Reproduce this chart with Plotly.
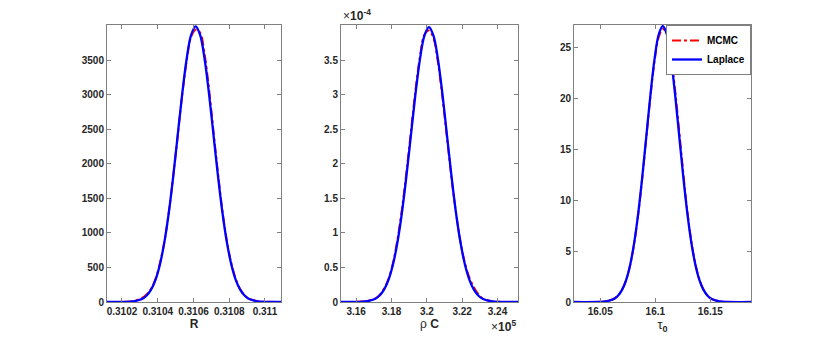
import plotly.graph_objects as go

# R panel
R_x = [0.31011, 0.310212, 0.310262, 0.310312, 0.310337, 0.310362, 0.310387, 0.310412,
       0.310437, 0.310462, 0.310487, 0.310512, 0.310537, 0.310562, 0.310587, 0.310612,
       0.310637, 0.310662, 0.310687, 0.310712, 0.310737, 0.310762, 0.310787, 0.310812,
       0.310837, 0.310862, 0.310887, 0.310912, 0.310962, 0.311012, 0.31111]
R_laplace = [0, 1.3, 8.7, 44, 91, 175, 317, 540, 863, 1295, 1827, 2420, 3012, 3521, 3867, 3990,
             3867, 3521, 3012, 2420, 1827, 1295, 863, 540, 317, 175, 91, 44, 8.7, 1.3, 0]
R_mcmc = [0, 2, 12, 60, 110, 190, 330, 560, 870, 1300, 1830, 2410, 3000, 3490, 3840, 3940,
          3900, 3590, 3080, 2470, 1870, 1320, 880, 560, 330, 185, 95, 48, 10, 2, 0]

# rho C panel (x in 1e5, y in 1e-4)
rC_x = [3.1502, 3.1604, 3.1655, 3.1706, 3.17315, 3.1757, 3.17825, 3.1808, 3.18335, 3.1859,
        3.18845, 3.191, 3.19355, 3.1961, 3.19865, 3.2012, 3.20375, 3.2063, 3.20885, 3.2114,
        3.21395, 3.2165, 3.21905, 3.2216, 3.22415, 3.2267, 3.22925, 3.2318, 3.2369, 3.242, 3.2522]
rC_laplace = [0, 0.0013, 0.0087, 0.0442, 0.0908, 0.1749, 0.3167, 0.5387, 0.8608, 1.2921, 1.8222,
              2.414, 3.0043, 3.5124, 3.8575, 3.98, 3.8575, 3.5124, 3.0043, 2.414, 1.8222, 1.2921,
              0.8608, 0.5387, 0.3167, 0.1749, 0.0908, 0.0442, 0.0087, 0.0013, 0]
rC_mcmc = [0, 0.002, 0.012, 0.05, 0.10, 0.19, 0.33, 0.56, 0.90, 1.34, 1.88, 2.47, 3.06, 3.55,
           3.87, 3.93, 3.82, 3.47, 2.96, 2.38, 1.80, 1.29, 0.87, 0.56, 0.35, 0.21, 0.11, 0.05,
           0.01, 0.002, 0]

# tau0 panel
t_x = [16.0254, 16.0476, 16.055, 16.0624, 16.0661, 16.0698, 16.0735, 16.0772, 16.0809, 16.0846,
       16.0883, 16.092, 16.0957, 16.0994, 16.1031, 16.1068, 16.1105, 16.1142, 16.1179, 16.1216,
       16.1253, 16.129, 16.1327, 16.1364, 16.1401, 16.1438, 16.1475, 16.1512, 16.1586, 16.166, 16.1882]
t_laplace = [0, 0.0091, 0.0593, 0.301, 0.618, 1.191, 2.156, 3.668, 5.861, 8.798, 12.407, 16.437,
             20.456, 23.916, 26.266, 27.1, 26.266, 23.916, 20.456, 16.437, 12.407, 8.798, 5.861,
             3.668, 2.156, 1.191, 0.618, 0.301, 0.0593, 0.0091, 0]
t_mcmc = [0, 0.01, 0.07, 0.32, 0.63, 1.2, 2.15, 3.62, 5.8, 8.7, 12.3, 16.3, 20.3, 23.7, 26.0, 26.8,
          26.4, 24.2, 20.9, 16.9, 12.8, 9.0, 6.0, 3.75, 2.2, 1.2, 0.62, 0.3, 0.06, 0.01, 0]

FONT = "Liberation Sans, Arial, sans-serif"
fig = go.Figure()

panels = [(R_x, R_mcmc, R_laplace, "", ""), (rC_x, rC_mcmc, rC_laplace, "2", "2"),
          (t_x, t_mcmc, t_laplace, "3", "3")]
for i, (x, m, l, xa, ya) in enumerate(panels):
    fig.add_trace(go.Scatter(x=x, y=m, mode="lines", name="MCMC", showlegend=(i == 2),
                             line=dict(color="red", width=2, dash="dashdot", shape="spline"),
                             xaxis="x" + xa, yaxis="y" + ya))
    fig.add_trace(go.Scatter(x=x, y=l, mode="lines", name="Laplace", showlegend=(i == 2),
                             line=dict(color="blue", width=2.3, shape="spline"),
                             xaxis="x" + xa, yaxis="y" + ya))

axis_style = dict(showline=True, mirror="ticks", linecolor="#808080", linewidth=1,
                  ticks="inside", ticklen=4, tickcolor="#808080", showgrid=False,
                  zeroline=False, tickangle=0,
                  tickfont=dict(family=FONT, size=10, color="#262626", weight="bold"))

fig.update_layout(
    width=830, height=344,
    margin=dict(l=0, r=0, t=25, b=42),
    plot_bgcolor="white", paper_bgcolor="white",
    font=dict(family=FONT, color="#262626"),
    xaxis=dict(domain=[0.1289, 0.3386], range=[0.310116, 0.31109],
               tickvals=[0.3102, 0.3104, 0.3106, 0.3108, 0.311],
               ticktext=["0.3102", "0.3104", "0.3106", "0.3108", "0.311"],
               title=dict(text="<b>R</b>", font=dict(size=12), standoff=3), **axis_style),
    yaxis=dict(domain=[0, 1], range=[0, 4009], anchor="x",
               tickvals=[0, 500, 1000, 1500, 2000, 2500, 3000, 3500], **axis_style),
    xaxis2=dict(domain=[0.4108, 0.6241], range=[3.1514, 3.2516], anchor="y2",
                tickvals=[3.16, 3.18, 3.2, 3.22, 3.24],
                ticktext=["3.16", "3.18", "3.2", "3.22", "3.24"],
                title=dict(text="ρ <b>C</b>", font=dict(size=12), standoff=3), **axis_style),
    yaxis2=dict(domain=[0, 1], range=[0, 4.01], anchor="x2",
                tickvals=[0, 0.5, 1, 1.5, 2, 2.5, 3, 3.5],
                ticktext=["0", "0.5", "1", "1.5", "2", "2.5", "3", "3.5"], **axis_style),
    xaxis3=dict(domain=[0.6916, 0.9048], range=[16.0262, 16.1869], anchor="y3",
                tickvals=[16.05, 16.1, 16.15], ticktext=["16.05", "16.1", "16.15"],
                title=dict(text="τ<sub><b>0</b></sub>", font=dict(size=13), standoff=3), **axis_style),
    yaxis3=dict(domain=[0, 1], range=[0, 27.2], anchor="x3",
                tickvals=[0, 5, 10, 15, 20, 25], **axis_style),
    legend=dict(x=0.9048, xanchor="right", y=1.0, yanchor="top",
                bgcolor="white", bordercolor="#808080", borderwidth=1,
                font=dict(family=FONT, size=10, color="black", weight="bold"),
                tracegroupgap=0, itemwidth=30),
    annotations=[
        dict(text="×<b>10</b><sup><b>-4</b></sup>", xref="paper", yref="paper", x=0.4108, y=1.0,
             xanchor="left", yanchor="bottom", showarrow=False,
             font=dict(family=FONT, size=12, color="#262626")),
        dict(text="×<b>10</b><sup><b>5</b></sup>", xref="paper", yref="paper", x=0.6241, y=-0.05,
             xanchor="right", yanchor="top", showarrow=False,
             font=dict(family=FONT, size=12, color="#262626")),
    ],
)

fig.write_html("out.html", config={"displayModeBar": False},
               post_script="document.body.style.margin='0';")
